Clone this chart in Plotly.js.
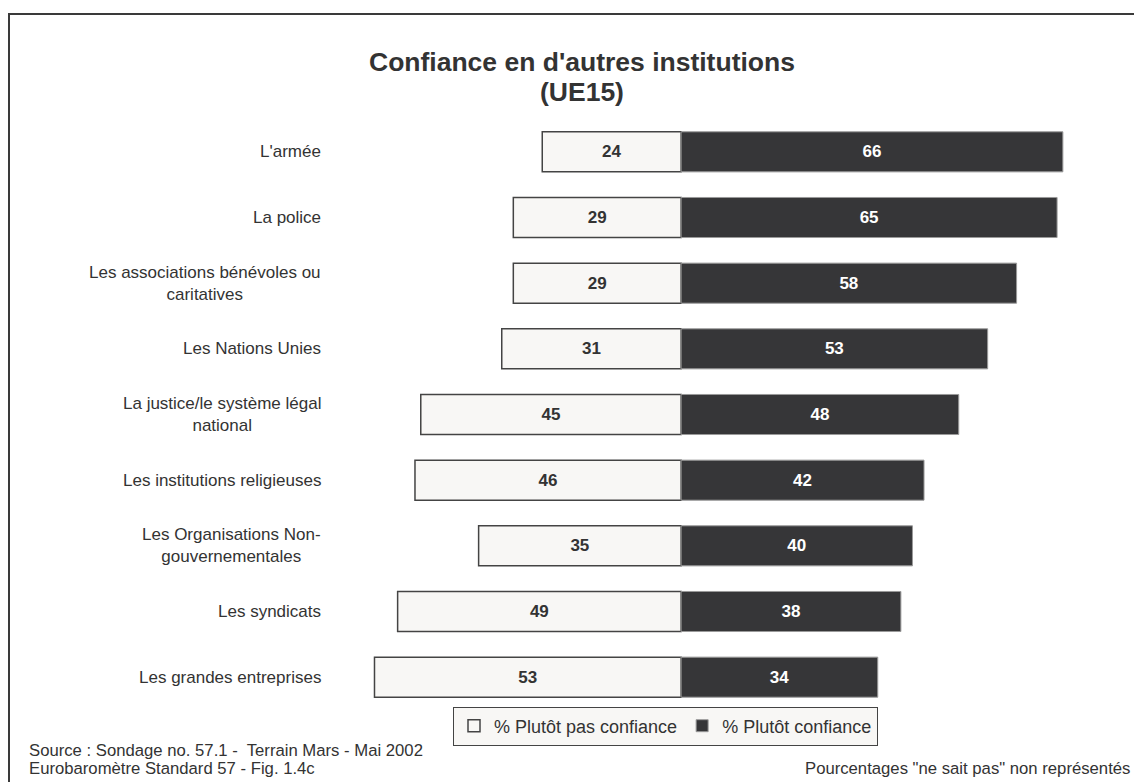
<!DOCTYPE html>
<html>
<head>
<meta charset="utf-8">
<script src="https://cdn.plot.ly/plotly-3.0.1.min.js"></script>
<style>
html,body{margin:0;padding:0;background:#fff;}
#wrap{position:relative;width:1134px;height:782px;overflow:hidden;}
#chart{position:absolute;left:0;top:0;width:1134px;height:782px;}
#frame{position:absolute;left:8px;top:13px;width:1200px;height:900px;border-top:2px solid #3a3a3a;border-left:2px solid #3a3a3a;pointer-events:none;}
</style>
</head>
<body>
<div id="wrap"><div id="chart"></div><div id="frame"></div></div>
<script>
// ---- data ----
const categories = [
  "L'armée",
  "La police",
  "Les associations bénévoles ou<br>caritatives",
  "Les Nations Unies",
  "La justice/le système légal<br>national",
  "Les institutions religieuses",
  "Les Organisations Non-<br>gouvernementales",
  "Les syndicats",
  "Les grandes entreprises"
];
const pasConfiance = [24, 29, 29, 31, 45, 46, 35, 49, 53];
const confiance    = [66, 65, 58, 53, 48, 42, 40, 38, 34];
const seriesNames = ["% Plutôt pas confiance", "% Plutôt confiance"];
const titleLines = ["Confiance en d'autres institutions", "(UE15)"];
const sourceLines = ["Source : Sondage no. 57.1 -  Terrain Mars - Mai 2002", "Eurobaromètre Standard 57 - Fig. 1.4c"];
const noteText = 'Pourcentages "ne sait pas" non représentés';

// ---- layout geometry ----
const W = 1134, H = 782;
const M = {l: 334, r: 48, t: 119, b: 72};
const plotW = W - M.l - M.r, plotH = H - M.t - M.b;
const FONT = "Liberation Sans, Arial, Helvetica, sans-serif";
const TXT = "#333333";
const px2x = px => (px - M.l) / plotW;
const px2y = py => (H - M.b - py) / plotH;

const traces = [
  {
    type: 'bar', orientation: 'h', name: seriesNames[0],
    y: categories, x: pasConfiance.map(v => -v),
    text: pasConfiance.map(String), textposition: 'inside', insidetextanchor: 'middle',
    textangle: 0, constraintext: 'none',
    textfont: {family: FONT, size: 17, color: '#333333', weight: 'bold'},
    marker: {color: '#f8f7f5', line: {color: '#444444', width: 1.5}},
    hoverinfo: 'skip'
  },
  {
    type: 'bar', orientation: 'h', name: seriesNames[1],
    y: categories, x: confiance,
    text: confiance.map(String), textposition: 'inside', insidetextanchor: 'middle',
    textangle: 0, constraintext: 'none',
    textfont: {family: FONT, size: 17, color: '#ffffff', weight: 'bold'},
    marker: {color: '#363638', line: {color: '#9a9a9a', width: 1}},
    hoverinfo: 'skip'
  }
];

const annotations = [];
categories.forEach(c => annotations.push({
  xref: 'paper', yref: 'y', x: 0, y: c, xanchor: 'right', yanchor: 'middle',
  xshift: -11, text: c, showarrow: false, align: 'center',
  font: {family: FONT, size: 17, color: TXT}
}));
annotations.push({xref:'paper', yref:'paper', x: px2x(581.5), y: px2y(62.5), xanchor:'center', yanchor:'middle',
  text: titleLines[0], showarrow:false, font:{family:FONT, size:26.5, color:TXT, weight:'bold'}});
annotations.push({xref:'paper', yref:'paper', x: px2x(581.5), y: px2y(91.5), xanchor:'center', yanchor:'middle',
  text: titleLines[1], showarrow:false, font:{family:FONT, size:26.5, color:TXT, weight:'bold'}});
annotations.push({xref:'paper', yref:'paper', x: px2x(27), y: px2y(750), xanchor:'left', yanchor:'middle',
  text: sourceLines[0], showarrow:false, font:{family:FONT, size:16.7, color:TXT}});
annotations.push({xref:'paper', yref:'paper', x: px2x(27), y: px2y(768.5), xanchor:'left', yanchor:'middle',
  text: sourceLines[1], showarrow:false, font:{family:FONT, size:16.7, color:TXT}});
annotations.push({xref:'paper', yref:'paper', x: px2x(1132), y: px2y(768.5), xanchor:'right', yanchor:'middle',
  text: noteText, showarrow:false, font:{family:FONT, size:16.7, color:TXT}});

const layout = {
  width: W, height: H,
  margin: M,
  paper_bgcolor: '#ffffff', plot_bgcolor: 'rgba(0,0,0,0)',
  barmode: 'relative', bargap: 0.39,
  font: {family: FONT, color: TXT},
  xaxis: {range: [-60, 70], visible: false, showgrid: false, zeroline: false, fixedrange: true},
  yaxis: {type: 'category', categoryorder: 'array', categoryarray: categories,
          range: [categories.length - 0.5, -0.5], showticklabels: false, showgrid: false,
          zeroline: false, showline: false, ticks: '', fixedrange: true},
  showlegend: true,
  legend: {orientation: 'h', xref: 'paper', yref: 'paper', x: px2x(453), y: px2y(706.5),
           xanchor: 'left', yanchor: 'top', bgcolor: '#f8f7f5', bordercolor: '#444444',
           borderwidth: 1, font: {family: FONT, size: 18, color: TXT}, traceorder: 'normal'},
  annotations: annotations,
  hovermode: false
};

Plotly.newPlot('chart', traces, layout, {displayModeBar: false, staticPlot: true});
</script>
</body>
</html>
